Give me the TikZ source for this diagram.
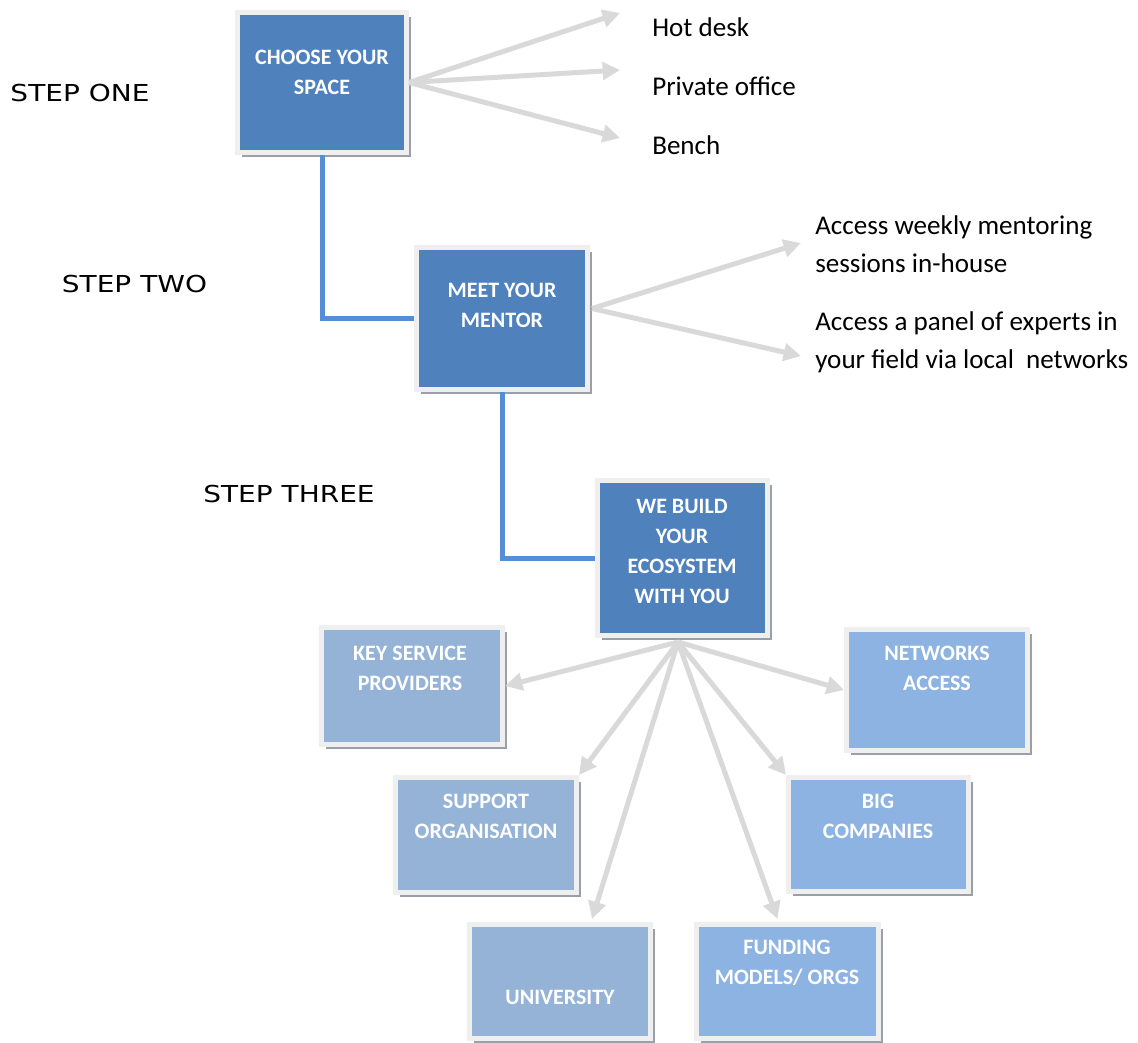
\documentclass[tikz,border=0pt]{standalone}
\usepackage{fontspec}
\setmainfont{Carlito}
\newfontfamily\stepfont{DejaVu Sans}
\usetikzlibrary{arrows.meta,shadows,calc}
\definecolor{darkbox}{HTML}{4F81BD}
\definecolor{lightA}{HTML}{95B3D7}
\definecolor{lightB}{HTML}{8DB3E2}
\definecolor{boxborder}{HTML}{EFEFEF}
\definecolor{shadowgray}{HTML}{9A9FA8}
\definecolor{linkblue}{HTML}{558ED5}
\definecolor{arrowgray}{HTML}{D9D9D9}
\begin{document}
\begin{tikzpicture}[x=0.75pt,y=-0.75pt,
  box/.style 2 args={draw=boxborder, line width=3.75pt, inner sep=0pt,
    minimum width=#1*0.75pt, minimum height=#2*0.75pt,
    drop shadow={shadow xshift=3pt, shadow yshift=-3pt, fill=shadowgray, opacity=1}},
  darkboxst/.style={fill=darkbox},
  lightAst/.style={fill=lightA},
  lightBst/.style={fill=lightB},
  boxtext/.style={text=white, align=center, inner sep=0pt,
    font=\fontsize{16.5}{22.5}\selectfont\bfseries},
  sidetext/.style={anchor=west, align=left, inner sep=0pt,
    font=\fontsize{20.3}{28.5}\selectfont},
  steptext/.style={inner sep=0pt, font=\fontsize{17.5}{20}\selectfont\stepfont},
  link/.style={draw=linkblue, line width=3.75pt},
  garrow/.style={draw=arrowgray, line width=3.75pt,
    -{Triangle[length=13pt,width=13pt]}}
]
\useasboundingbox (0,0) rectangle (1138,1042);

% boxes
\node[box={169}{140}, darkboxst] (choose) at (322,82.5) {};
\node[box={171}{142}, darkboxst] (mentor) at (502,318.5) {};
\node[box={170}{155}, darkboxst] (build) at (682.5,558) {};
\node[box={181}{117}, lightAst] (key) at (412,686) {};
\node[box={181}{115}, lightAst] (support) at (486,835) {};
\node[box={181}{114}, lightAst] (univ) at (560,981.5) {};
\node[box={182}{114}, lightBst] (funding) at (787.5,981.5) {};
\node[box={180}{114}, lightBst] (big) at (878.5,834.5) {};
\node[box={181}{121}, lightBst] (networks) at (937,690) {};

% box texts
\node[boxtext] (choose-t) at (322,72) {CHOOSE YOUR\\SPACE};
\node[boxtext] (mentor-t) at (502,305) {MEET YOUR\\MENTOR};
\node[boxtext] (build-t) at (682,551) {WE BUILD\\YOUR\\ECOSYSTEM\\WITH YOU};
\node[boxtext] (key-t) at (410,668) {KEY SERVICE\\PROVIDERS};
\node[boxtext] (support-t) at (486,816) {SUPPORT\\ORGANISATION};
\node[boxtext] (univ-t) at (560,997) {UNIVERSITY};
\node[boxtext] (funding-t) at (787,963) {FUNDING\\MODELS/ ORGS};
\node[boxtext] (big-t) at (878,816) {BIG\\COMPANIES};
\node[boxtext] (networks-t) at (937,668) {NETWORKS\\ACCESS};

% step labels
\node[steptext] (s1) at (80,93) {\scalebox{1.2}[1]{STEP ONE}};
\node[steptext] (s2) at (134.5,284) {\scalebox{1.2}[1]{STEP TWO}};
\node[steptext] (s3) at (289,494) {\scalebox{1.2}[1]{STEP THREE}};

% side texts
\node[sidetext] (hot) at (652,27) {Hot desk};
\node[sidetext] (priv) at (652,86) {Private office};
\node[sidetext] (bench) at (652,145) {Bench};
\node[sidetext] (weekly) at (815,244) {Access weekly mentoring\\sessions in-house};
\node[sidetext] (panel) at (815,342.5) {Access a panel of experts in\\your field via local\ \ networks};

% blue links
\draw[link] (choose.south) |- (mentor.west);
\draw[link] (mentor.south) |- (build.west);

% fan-out arrows
\coordinate (h1) at (620,13);
\coordinate (h2) at (620,70);
\coordinate (h3) at (620,138);
\draw[garrow] (choose.east) -- (h1);
\draw[garrow] (choose.east) -- (h2);
\draw[garrow] (choose.east) -- (h3);

\coordinate (mstart) at ($(mentor.east)+(2,-10)$);
\coordinate (m1) at (801,243);
\coordinate (m2) at (801,356);
\draw[garrow] (mstart) -- (m1);
\draw[garrow] (mstart) -- (m2);

\coordinate (hub) at (678,642);
\draw[garrow] (hub) -- (key.east);
\draw[garrow] (hub) -- (support.north east);
\draw[garrow] (hub) -- ($(univ.north)+(32,-3)$);
\draw[garrow] (hub) -- ($(funding.north)+(-10,-3)$);
\draw[garrow] (hub) -- (big.north west);
\draw[garrow] (hub) -- (networks.west);
\end{tikzpicture}
\end{document}
